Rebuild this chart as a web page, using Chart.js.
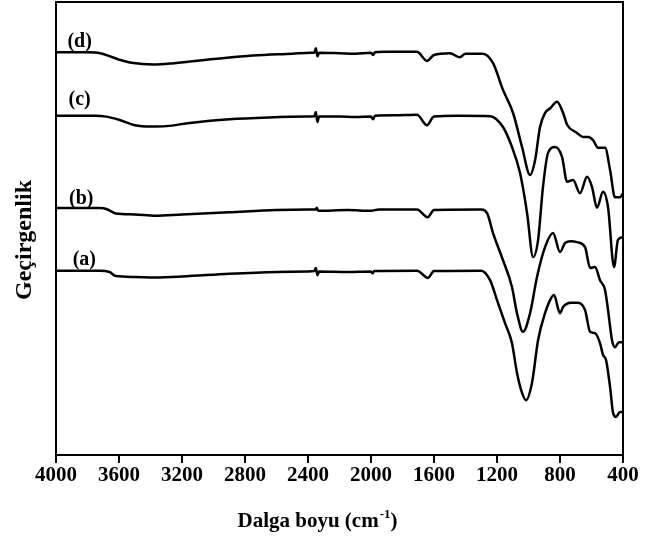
<!DOCTYPE html>
<html>
<head>
<meta charset="utf-8">
<script src="https://cdn.jsdelivr.net/npm/chart.js@4/dist/chart.umd.min.js"></script>
<style>
  html, body { margin: 0; padding: 0; background: #fff; }
  #wrap { width: 655px; height: 537px; }
</style>
</head>
<body>
<div id="wrap"><canvas id="ftirChart"></canvas></div>
<script>
// wavenumbers (cm-1) and transmittance (arbitrary, offset) for each spectrum
const aWn = [4000, 3720, 3660, 3620, 3500, 3370, 3200, 2900, 2600, 2400, 2360, 2350, 2340, 2330, 2150, 2000, 1990, 1980, 1708, 1638, 1600, 1300, 1244, 1200, 1149, 1105, 1073, 1041, 1016, 978, 939, 895, 863, 838, 800, 780, 730, 692, 641, 609, 578, 546, 527, 508, 482, 463, 444, 419, 400];
const aT  = [40.7, 40.7, 40.4, 39.5, 39.3, 39.2, 39.4, 40.0, 40.4, 40.5, 40.6, 41.3, 39.7, 40.5, 40.4, 40.5, 40.1, 40.6, 40.7, 39.1, 40.6, 40.7, 38.6, 34.2, 29.1, 24.7, 18.1, 13.7, 12.1, 15.9, 25.4, 31.3, 34.2, 35.3, 31.3, 32.7, 33.6, 33.6, 32.0, 27.2, 26.9, 24.7, 22.1, 21.0, 15.0, 9.3, 8.4, 9.5, 9.5];

const bWn = [4000, 3720, 3680, 3640, 3620, 3500, 3370, 3200, 2900, 2600, 2400, 2350, 2345, 2335, 2150, 2000, 1950, 1708, 1640, 1600, 1300, 1263, 1225, 1162, 1105, 1073, 1035, 990, 946, 895, 844, 800, 768, 730, 692, 641, 609, 578, 546, 514, 495, 470, 451, 425, 400];
const bT  = [54.5, 54.5, 54.3, 53.6, 53.3, 53.1, 52.8, 53.1, 53.6, 54.1, 54.2, 54.2, 54.6, 53.9, 54.1, 53.9, 54.2, 54.2, 52.5, 54.1, 54.2, 53.4, 49.0, 43.0, 37.1, 31.3, 27.2, 31.3, 39.3, 45.9, 49.0, 44.8, 46.8, 47.2, 47.0, 45.9, 41.3, 41.5, 38.6, 36.4, 32.0, 25.4, 23.8, 24.9, 24.9];

const cWn = [4000, 3750, 3680, 3600, 3500, 3400, 3300, 3150, 2900, 2650, 2400, 2360, 2350, 2340, 2330, 2200, 2100, 2000, 1987, 1975, 1850, 1708, 1645, 1600, 1450, 1244, 1162, 1105, 1054, 1009, 971, 939, 908, 876, 831, 787, 755, 717, 673, 628, 597, 565, 527, 495, 457, 432, 400];
const cT  = [74.9, 74.9, 74.7, 74.0, 72.8, 72.5, 72.6, 73.3, 74.1, 74.5, 74.7, 74.8, 75.7, 73.5, 74.7, 74.7, 74.6, 74.7, 74.1, 74.9, 75.0, 75.1, 72.8, 74.7, 74.9, 74.8, 72.4, 68.0, 62.3, 53.4, 43.7, 47.5, 59.2, 66.7, 68.0, 65.8, 60.3, 60.7, 57.8, 61.4, 59.2, 54.6, 58.1, 54.7, 41.5, 47.5, 48.1];

const dWn = [4000, 3800, 3720, 3650, 3550, 3450, 3380, 3250, 3000, 2750, 2500, 2380, 2360, 2350, 2340, 2330, 2200, 2100, 2000, 1987, 1975, 1900, 1800, 1708, 1645, 1600, 1500, 1435, 1400, 1290, 1225, 1162, 1098, 1041, 990, 958, 927, 895, 860, 819, 780, 755, 692, 654, 620, 590, 558, 514, 482, 451, 419, 400];
const dT  = [88.9, 88.9, 88.7, 87.9, 86.8, 86.3, 86.2, 86.5, 87.4, 88.2, 88.6, 88.8, 88.8, 89.8, 88.0, 88.8, 88.7, 88.6, 88.8, 88.3, 88.9, 89.0, 89.0, 89.0, 87.0, 88.3, 88.7, 87.8, 88.6, 88.6, 86.5, 80.6, 75.5, 68.0, 61.8, 65.1, 72.4, 75.5, 76.6, 78.0, 75.5, 72.9, 71.1, 70.2, 70.2, 69.5, 67.8, 67.8, 62.9, 56.9, 56.9, 57.8];

const seriesNames = ['(a)', '(b)', '(c)', '(d)'];
// label anchor in data units: wavenumber, transmittance
const labelWn = [3820, 3840, 3850, 3850];
const labelT  = [43.0, 56.6, 78.4, 91.2];

const xTicks = [4000, 3600, 3200, 2800, 2400, 2000, 1600, 1200, 800, 400];

function pts(wn, t) {
  return wn.map((w, i) => ({ x: w, y: t[i] }));
}

const serif = '"Liberation Serif", "Times New Roman", serif';

const frameAndLabels = {
  id: 'frameAndLabels',
  afterDraw(chart) {
    const { ctx, chartArea: ca, scales } = chart;
    ctx.save();
    ctx.strokeStyle = '#000';
    ctx.lineWidth = 2;
    ctx.strokeRect(ca.left, ca.top, ca.right - ca.left, ca.bottom - ca.top);
    ctx.fillStyle = '#000';

    // series labels
    ctx.font = 'bold 20px ' + serif;
    ctx.textAlign = 'center';
    ctx.textBaseline = 'middle';
    seriesNames.forEach((name, i) => {
      ctx.fillText(name, scales.x.getPixelForValue(labelWn[i]), scales.y.getPixelForValue(labelT[i]));
    });

    // x axis title with superscript
    const main = 'Dalga boyu (cm';
    const sup = '-1';
    const tail = ')';
    ctx.textAlign = 'left';
    ctx.textBaseline = 'alphabetic';
    ctx.font = 'bold 21px ' + serif;
    const w1 = ctx.measureText(main).width;
    const w3 = ctx.measureText(tail).width;
    ctx.font = 'bold 13px ' + serif;
    const w2 = ctx.measureText(sup).width;
    let x0 = 317 - (w1 + w2 + w3) / 2;
    const base = 527;
    ctx.font = 'bold 21px ' + serif;
    ctx.fillText(main, x0, base);
    ctx.font = 'bold 13px ' + serif;
    ctx.fillText(sup, x0 + w1 + 1, base - 9);
    ctx.font = 'bold 21px ' + serif;
    ctx.fillText(tail, x0 + w1 + w2 + 1, base);

    // y axis title
    ctx.translate(25, 240);
    ctx.rotate(-Math.PI / 2);
    ctx.textAlign = 'center';
    ctx.textBaseline = 'middle';
    ctx.font = 'bold 24px ' + serif;
    ctx.fillText('Geçirgenlik', 0, 0);
    ctx.restore();
  }
};

const ds = (wn, t) => ({
  data: pts(wn, t),
  borderColor: '#000',
  borderWidth: 2.5,
  pointRadius: 0,
  fill: false,
  cubicInterpolationMode: 'monotone'
});

const ctx = document.getElementById('ftirChart').getContext('2d');
new Chart(ctx, {
  type: 'line',
  data: {
    datasets: [ds(aWn, aT), ds(bWn, bT), ds(cWn, cT), ds(dWn, dT)]
  },
  options: {
    responsive: true,
    maintainAspectRatio: false,
    animation: false,
    layout: { padding: { top: 2, right: 32, left: 0, bottom: 0 } },
    plugins: { legend: { display: false }, tooltip: { enabled: false } },
    scales: {
      x: {
        type: 'linear',
        reverse: true,
        min: 400,
        max: 4000,
        afterBuildTicks: scale => { scale.ticks = xTicks.map(v => ({ value: v })); },
        afterFit: scale => { scale.height = 82; },
        ticks: {
          color: '#000',
          padding: 0,
          maxRotation: 0,
          autoSkip: false,
          font: { family: '"Liberation Serif", serif', size: 21, weight: 'bold' },
          callback: v => String(v)
        },
        grid: { display: true, drawOnChartArea: false, drawTicks: true, tickLength: 8, color: '#000', lineWidth: 2 },
        border: { display: true, color: '#000', width: 2 }
      },
      y: {
        min: 0,
        max: 100,
        afterFit: scale => { scale.width = 56; },
        ticks: { display: false },
        grid: { display: false },
        border: { display: true, color: '#000', width: 2 }
      }
    }
  },
  plugins: [frameAndLabels]
});
</script>
</body>
</html>
